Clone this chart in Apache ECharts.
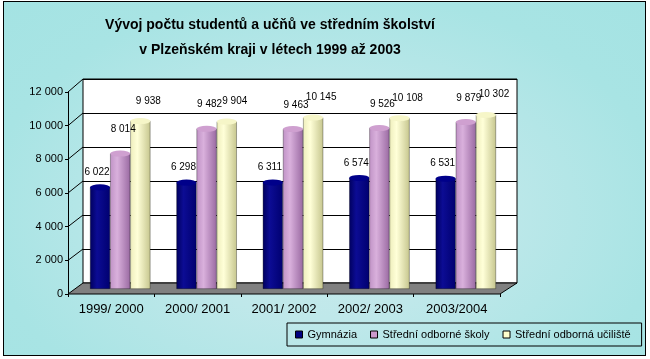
<!DOCTYPE html>
<html>
<head>
<meta charset="utf-8">
<script src="https://cdn.jsdelivr.net/npm/echarts@6/dist/echarts.min.js"></script>
<style>
  html, body { margin: 0; padding: 0; background: #fff; }
  #bg { position: absolute; left: 3px; top: 1px; width: 641px; height: 353px; border: 1px solid #000;
        background: radial-gradient(ellipse at 50% 60%, #cdeaec 0%, #bfe8ea 35%, #a8e4e4 75%, #a4e3e3 100%); }
  #chart { position: absolute; left: 0; top: 0; width: 650px; height: 359px; }
</style>
</head>
<body>
<div id="bg"></div>
<div id="chart"></div>
<script>
// ---- data ----
const categories = ['1999/ 2000', '2000/ 2001', '2001/ 2002', '2002/ 2003', '2003/2004'];
const seriesNames = ['Gymnázia', 'Střední odborné školy', 'Střední odborná učiliště'];
const gymnazia = [6022, 6298, 6311, 6574, 6531];
const skoly = [8014, 9482, 9463, 9526, 9879];
const uciliste = [9938, 9904, 10145, 10108, 10302];
const yTicks = [0, 2000, 4000, 6000, 8000, 10000, 12000];
const titleText = 'Vývoj počtu studentů a učňů ve středním školství\nv Plzeňském kraji v létech 1999 až 2003';

// ---- layout ----
const FRONT = { left: 68, top: 92, width: 432, height: 202 };
const BACK = { left: 83, top: 79, width: 434, height: 204 };
const BARS = { left: 77, top: 86, width: 432, height: 203 };
const Y_MAX = 12000;

function fmt(v) { return String(v).replace(/\B(?=(\d{3})+(?!\d))/g, ' '); }
function yAt(g, v) { return g.top + g.height * (1 - v / Y_MAX); }

const styles = [
  { grad: ['#00005e', '#0c0c94', '#000070'], cap: '#00008a', offset: [-3, -6], legend: '#000080' },
  { grad: ['#c093c6', '#d9b0dc', '#9a6aa2'], cap: '#cfa0d0', offset: [3, -15], legend: '#cc99cc' },
  { grad: ['#eeeebc', '#ffffd8', '#c6c68e'], cap: '#f6f6c8', offset: [8, -11], legend: '#ffffcc' }
];
const dataSets = [gymnazia, skoly, uciliste];

function grad(c) {
  return { type: 'linear', x: 0, y: 0, x2: 1, y2: 0,
    colorStops: [{ offset: 0, color: c[0] }, { offset: 0.35, color: c[1] }, { offset: 1, color: c[2] }] };
}

const series = [];
dataSets.forEach((d, i) => {
  series.push({
    name: seriesNames[i], type: 'bar', xAxisIndex: 2, yAxisIndex: 2, data: d,
    barGap: '0%', barCategoryGap: '30%', z: 2,
    itemStyle: { color: grad(styles[i].grad), borderColor: 'rgba(0,0,0,0.55)', borderWidth: 0.6 },
    label: { show: true, position: 'top', distance: 4, offset: styles[i].offset,
      formatter: p => fmt(p.value), fontFamily: 'Liberation Sans, Arial', fontSize: 10, color: '#000' }
  });
});
dataSets.forEach((d, i) => {
  series.push({
    name: seriesNames[i], type: 'pictorialBar', xAxisIndex: 2, yAxisIndex: 2, data: d,
    barGap: '0%', barCategoryGap: '30%', z: 3,
    symbol: 'circle', symbolSize: ['100%', 6], symbolPosition: 'end', symbolOffset: [0, '-50%'],
    itemStyle: { color: styles[i].cap, borderColor: 'rgba(0,0,0,0.6)', borderWidth: 0.6 },
    silent: true
  });
});

// decorations: floor and depth connectors derived from layout
const graphics = [];
graphics.push({
  type: 'polygon', z: 1,
  shape: { points: [
    [FRONT.left, FRONT.top + FRONT.height],
    [FRONT.left + FRONT.width, FRONT.top + FRONT.height],
    [BACK.left + BACK.width, BACK.top + BACK.height],
    [BACK.left, BACK.top + BACK.height]
  ] },
  style: { fill: '#808080', stroke: '#000', lineWidth: 1 }
});
yTicks.forEach(v => {
  if (v === 0) return;
  graphics.push({
    type: 'line', z: 1,
    shape: { x1: FRONT.left, y1: yAt(FRONT, v), x2: BACK.left, y2: yAt(BACK, v) },
    style: { stroke: '#000', lineWidth: 1 }
  });
});

const chart = echarts.init(document.getElementById('chart'), null, { renderer: 'canvas' });
chart.setOption({
  animation: false,
  backgroundColor: 'transparent',
  title: {
    text: titleText, left: 270, top: 13, padding: 0, textAlign: 'center',
    textStyle: { fontFamily: 'Liberation Sans, Arial', fontSize: 14, fontWeight: 'bold', lineHeight: 25, color: '#000' }
  },
  legend: {
    data: seriesNames.map((n, i) => ({ name: n, itemStyle: { color: styles[i].legend, borderColor: '#000', borderWidth: 1 } })),
    left: 287, top: 323, padding: [6, 11, 6, 8], itemGap: 13, itemWidth: 7, itemHeight: 7, icon: 'rect',
    borderColor: '#000', borderWidth: 1, backgroundColor: 'transparent',
    textStyle: { fontFamily: 'Liberation Sans, Arial', fontSize: 11, color: '#000' }
  },
  grid: [
    Object.assign({ show: true, backgroundColor: '#fff', borderColor: '#000', borderWidth: 1, z: 0 }, BACK),
    Object.assign({}, FRONT),
    Object.assign({}, BARS)
  ],
  xAxis: [
    { gridIndex: 0, type: 'category', data: categories, show: false },
    { gridIndex: 1, type: 'category', data: categories,
      axisLine: { show: false },
      axisTick: { show: true, length: 3, lineStyle: { color: '#000' } },
      axisLabel: { margin: 9, fontFamily: 'Liberation Sans, Arial', fontSize: 13, color: '#000' } },
    { gridIndex: 2, type: 'category', data: categories, show: false }
  ],
  yAxis: [
    { gridIndex: 0, type: 'value', min: 0, max: Y_MAX, interval: 2000,
      axisLine: { show: false }, axisTick: { show: false }, axisLabel: { show: false },
      splitLine: { show: true, lineStyle: { color: '#000', width: 1 } } },
    { gridIndex: 1, type: 'value', min: 0, max: Y_MAX, interval: 2000,
      axisLine: { show: true, lineStyle: { color: '#000' } },
      axisTick: { show: true, length: 3, lineStyle: { color: '#000' } },
      axisLabel: { margin: 5, formatter: v => fmt(v), fontFamily: 'Liberation Sans, Arial', fontSize: 11, color: '#000' },
      splitLine: { show: false } },
    { gridIndex: 2, type: 'value', min: 0, max: Y_MAX, interval: 2000, show: false, splitLine: { show: false } }
  ],
  graphic: graphics,
  series: series
});
</script>
</body>
</html>
